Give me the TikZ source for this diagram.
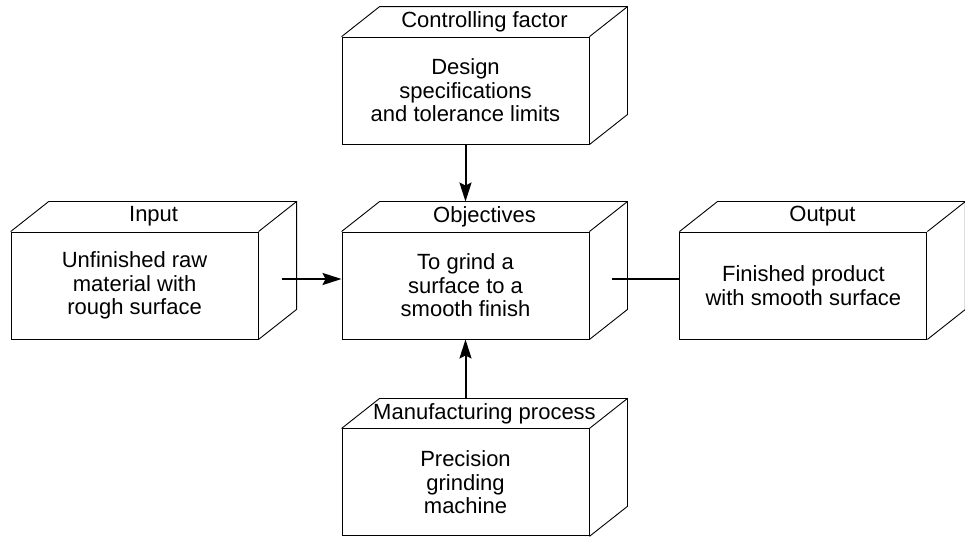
\documentclass[tikz,border=0pt]{standalone}
\usepackage{fontspec}
\setmainfont{Liberation Sans}
\usetikzlibrary{arrows.meta, positioning, calc}

\begin{document}
\begin{tikzpicture}[
    node distance=87pt and 83pt,
    block/.style={rectangle, draw, line width=0.9pt, minimum width=247pt, minimum height=107pt, inner sep=0pt, align=center, font=\fontsize{22}{23.5}\selectfont},
    head/.style={inner sep=0pt, font=\fontsize{22}{23.5}\selectfont},
    face/.style={line width=0.9pt, line join=miter},
    arrow/.style={-{Stealth[length=19pt, width=12pt, inset=3pt]}, line width=2pt},
    link/.style={line width=2pt}
]
\useasboundingbox (0,0) rectangle (965pt,536pt);

\node[block] (obj) at (465.5pt,250.5pt) {To grind a\\surface to a\\smooth finish};
\node[block, above=87pt of obj] (ctrl) {Design\\specifications\\and tolerance limits};
\node[block, left=83pt of obj] (input) {Unfinished raw\\material with\\rough surface};
\node[block, right=90pt of obj] (output) {Finished product\\with smooth surface};
\node[block, below=89pt of obj] (proc) {Precision\\grinding\\machine};

% 3D faces
\foreach \b in {ctrl, input, obj, output, proc} {
    \draw[face] (\b.north west) -- ++(38pt,30pt) -| ($(\b.south east)+(38pt,30pt)$) -- (\b.south east);
    \draw[face] (\b.north east) -- ++(38pt,30pt);
}

% Headings
\node[head] (ctrl-head) at ($(ctrl.north)+(19pt,15pt)$) {Controlling factor};
\node[head] (input-head) at ($(input.north)+(19pt,15pt)$) {Input};
\node[head] (obj-head) at ($(obj.north)+(19pt,15pt)$) {Objectives};
\node[head] (output-head) at ($(output.north)+(19pt,15pt)$) {Output};
\node[head] (proc-head) at ($(proc.north)+(19pt,15pt)$) {Manufacturing process};

% Connectors
\coordinate (obj-top) at ($(obj.north)+(0,30pt)$);
\coordinate (proc-top) at ($(proc.north)+(0,30pt)$);
\coordinate (input-side) at ($(input.east)+(23pt,6.5pt)$);
\coordinate (obj-side) at ($(obj.east)+(23pt,6.5pt)$);

\draw[arrow] (ctrl.south) -- (obj-top);
\draw[arrow] (proc-top) -- (obj.south);
\draw[arrow] (input-side) -- (input-side -| obj.west);
\draw[link] (obj-side) -- (obj-side -| output.west);

\end{tikzpicture}
\end{document}
